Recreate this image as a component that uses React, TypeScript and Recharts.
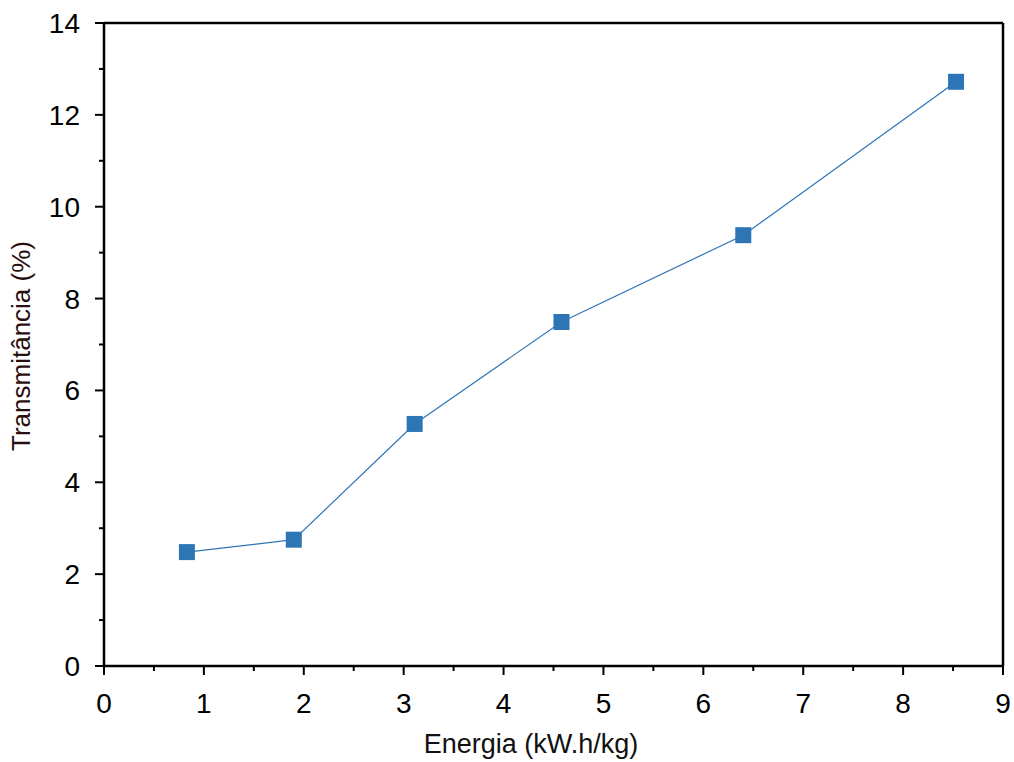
import React from "react";
import { LineChart, Line, XAxis, YAxis, ReferenceLine, Label } from "recharts";

const energia = [0.83, 1.9, 3.11, 4.58, 6.4, 8.53];
const transmitancia = [2.48, 2.75, 5.27, 7.49, 9.38, 12.72];
const xTicks = [0, 0.5, 1, 1.5, 2, 2.5, 3, 3.5, 4, 4.5, 5, 5.5, 6, 6.5, 7, 7.5, 8, 8.5, 9];
const yTicks = [0, 1, 2, 3, 4, 5, 6, 7, 8, 9, 10, 11, 12, 13, 14];

const data = energia.map((x, i) => ({ x, y: transmitancia[i] }));

const FONT = "'Liberation Sans', Arial, sans-serif";
const BLUE = "#2e75b6";

function XTick(props: any) {
  const { x, y, payload } = props;
  const major = Number.isInteger(payload.value);
  return (
    <g>
      <line x1={x} x2={x} y1={y} y2={y + (major ? 9 : 5)} stroke="#000" strokeWidth={2} />
      {major && (
        <text x={x} y={y + 47} textAnchor="middle" fontSize={28} fontFamily={FONT} fill="#000">
          {payload.value}
        </text>
      )}
    </g>
  );
}

function YTick(props: any) {
  const { x, y, payload } = props;
  const major = payload.value % 2 === 0;
  return (
    <g>
      <line x1={x} x2={x - (major ? 9 : 5)} y1={y} y2={y} stroke="#000" strokeWidth={2} />
      {major && (
        <text x={x - 24} y={y + 10} textAnchor="end" fontSize={28} fontFamily={FONT} fill="#000">
          {payload.value}
        </text>
      )}
    </g>
  );
}

function Square(props: any) {
  const { cx, cy } = props;
  if (cx == null || cy == null) return null;
  return <rect x={cx - 8} y={cy - 8} width={16} height={16} fill={BLUE} />;
}

export default function App() {
  return (
    <div style={{ position: "absolute", left: 0, top: 0, background: "#fff" }}>
      <LineChart width={1014} height={762} data={data} margin={{ top: 23, right: 11, bottom: 6, left: 24 }}>
        <XAxis
          type="number"
          dataKey="x"
          domain={[0, 9]}
          ticks={xTicks}
          interval={0}
          height={90}
          tickSize={0}
          tickMargin={0}
          tickLine={false}
          axisLine={{ stroke: "#000", strokeWidth: 2.5 }}
          tick={<XTick />}
        >
          <Label
            content={() => (
              <text x={531} y={753} textAnchor="middle" fontSize={27} fontFamily={FONT} fill="#111">
                Energia (kW.h/kg)
              </text>
            )}
          />
        </XAxis>
        <YAxis
          type="number"
          domain={[0, 14]}
          ticks={yTicks}
          interval={0}
          width={80}
          tickSize={0}
          tickMargin={0}
          tickLine={false}
          axisLine={{ stroke: "#000", strokeWidth: 2.5 }}
          tick={<YTick />}
        >
          <Label
            content={() => (
              <text
                x={30}
                y={346}
                transform="rotate(-90 30 346)"
                textAnchor="middle"
                fontSize={26}
                fontFamily={FONT}
                fill="#2a0f0f"
              >
                Transmitância (%)
              </text>
            )}
          />
        </YAxis>
        <ReferenceLine y={14} stroke="#000" strokeWidth={2.5} />
        <ReferenceLine x={9} stroke="#000" strokeWidth={2.5} />
        <Line
          type="linear"
          dataKey="y"
          stroke={BLUE}
          strokeWidth={1.2}
          dot={<Square />}
          activeDot={false}
          isAnimationActive={false}
        />
      </LineChart>
    </div>
  );
}
